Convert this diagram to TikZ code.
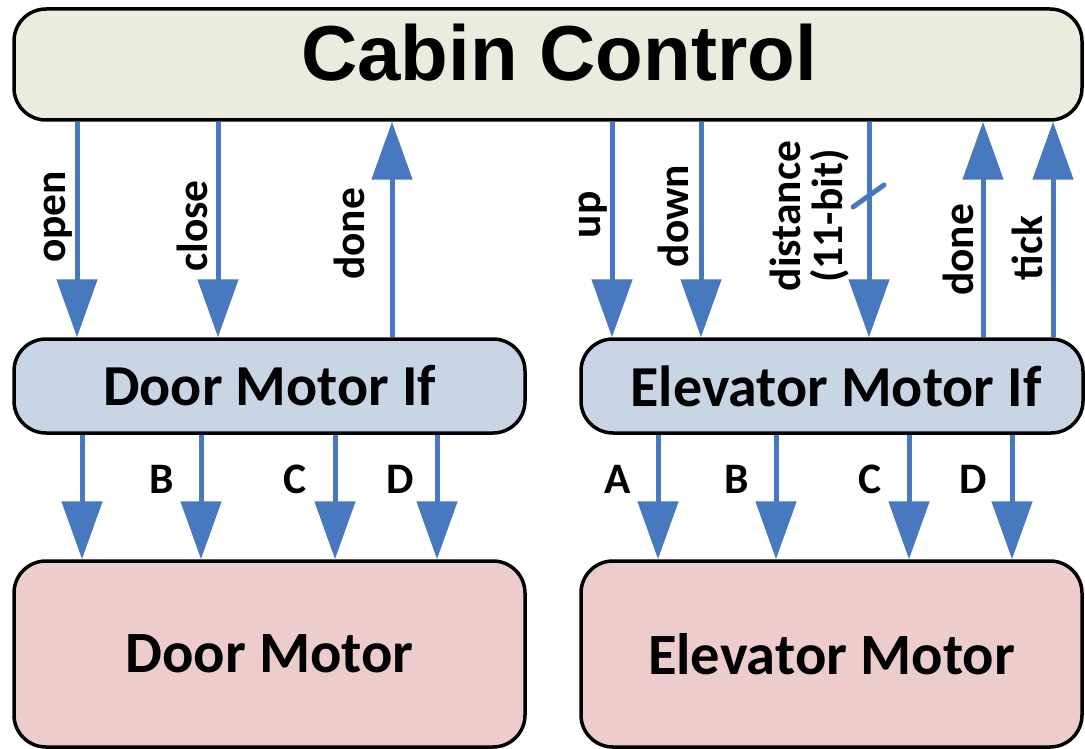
\documentclass[tikz,border=0pt]{standalone}
\usepackage{fontspec}
\setmainfont{Carlito}
\newfontfamily\headfont{Liberation Sans}
\usetikzlibrary{arrows.meta}

\definecolor{sigblue}{HTML}{4878BE}
\definecolor{cabinfill}{HTML}{EAEDDD}
\definecolor{iffill}{HTML}{C8D5E5}
\definecolor{motorfill}{HTML}{ECCDCB}

\begin{document}
\begin{tikzpicture}[x=1pt,y=-1pt,
  box/.style={draw=black, line width=3.5pt, rounded corners=32pt, inner sep=0pt},
  ctrlbox/.style={box, fill=cabinfill},
  ifbox/.style={box, fill=iffill, font=\bfseries\fontsize{58}{58}\selectfont},
  motorbox/.style={box, fill=motorfill, font=\bfseries\fontsize{58.5}{58.5}\selectfont},
  sig/.style={draw=sigblue, line width=5pt, -{Triangle[width=40pt,length=58pt]}},
  siglbl/.style={font=\bfseries\fontsize{43.5}{43.5}\selectfont, rotate=90, anchor=base, inner sep=0pt},
  pinlbl/.style={font=\bfseries\fontsize{43.5}{43.5}\selectfont, anchor=base, inner sep=0pt},
  buswidth/.style={draw=sigblue, line width=5pt, line cap=round}
]
\useasboundingbox (0,0) rectangle (1085,749);

% blocks
\node[ctrlbox, minimum width=1068pt, minimum height=111pt] (cabin) at (548,64.5) {};
\node[font=\headfont\bfseries\fontsize{78}{78}\selectfont, anchor=base, inner sep=0pt]
  (cabinlbl) at (559,81) {Cabin Control};

\node[ifbox, minimum width=511pt, minimum height=94pt] (dmif) at (269.5,386) {Door Motor If};
\node[ifbox, minimum width=502pt, minimum height=94pt] (emif) at (832,386) {\hspace*{8pt}Elevator Motor If};

\node[motorbox, minimum width=511pt, minimum height=186pt] (dm) at (269.5,654) {Door Motor};
\node[motorbox, minimum width=501pt, minimum height=186pt] (em) at (831.5,654) {Elevator Motor};

% cabin control <-> door motor interface
\draw[sig] (77,0 |- cabin.south) -- (77,0 |- dmif.north);
\draw[sig] (218,0 |- cabin.south) -- (218,0 |- dmif.north);
\draw[sig] (392,0 |- dmif.north) -- (392,0 |- cabin.south);
\node[siglbl] (lopen)  at (65,217)  {open};
\node[siglbl] (lclose) at (207,226) {close};
\node[siglbl] (ldone1) at (364,234) {done};

% cabin control <-> elevator motor interface
\draw[sig] (612,0 |- cabin.south) -- (612,0 |- emif.north);
\draw[sig] (701,0 |- cabin.south) -- (701,0 |- emif.north);
\draw[sig] (869,0 |- cabin.south) -- (869,0 |- emif.north);
\draw[sig] (983,0 |- emif.north) -- (983,0 |- cabin.south);
\draw[sig] (1053,0 |- emif.north) -- (1053,0 |- cabin.south);
\node[siglbl] (lup)    at (600,215) {up};
\node[siglbl] (ldown)  at (688,216) {down};
\node[siglbl] (ldist)  at (800,216) {distance};
\node[siglbl] (lbits)  at (842,216) {(11-bit)};
\node[siglbl] (ldone2) at (973,250) {done};
\node[siglbl] (ltick)  at (1042,248) {tick};

% bus width mark on the distance signal
\coordinate (busA) at (853,207);
\coordinate (busB) at (884,185);
\draw[buswidth] (busA) -- (busB);

% door motor interface -> door motor
\draw[sig] (82,0 |- dmif.south) -- (82,0 |- dm.north);
\draw[sig] (201,0 |- dmif.south) -- (201,0 |- dm.north);
\draw[sig] (335,0 |- dmif.south) -- (335,0 |- dm.north);
\draw[sig] (437,0 |- dmif.south) -- (437,0 |- dm.north);
\node[pinlbl] (dB) at (162,493) {B};
\node[pinlbl] (dC) at (295,493) {C};
\node[pinlbl] (dD) at (400,493) {D};

% elevator motor interface -> elevator motor
\draw[sig] (658,0 |- emif.south) -- (658,0 |- em.north);
\draw[sig] (776,0 |- emif.south) -- (776,0 |- em.north);
\draw[sig] (909,0 |- emif.south) -- (909,0 |- em.north);
\draw[sig] (1012,0 |- emif.south) -- (1012,0 |- em.north);
\node[pinlbl] (eA) at (618,493) {A};
\node[pinlbl] (eB) at (737,493) {B};
\node[pinlbl] (eC) at (870,493) {C};
\node[pinlbl] (eD) at (973,493) {D};
\end{tikzpicture}
\end{document}
